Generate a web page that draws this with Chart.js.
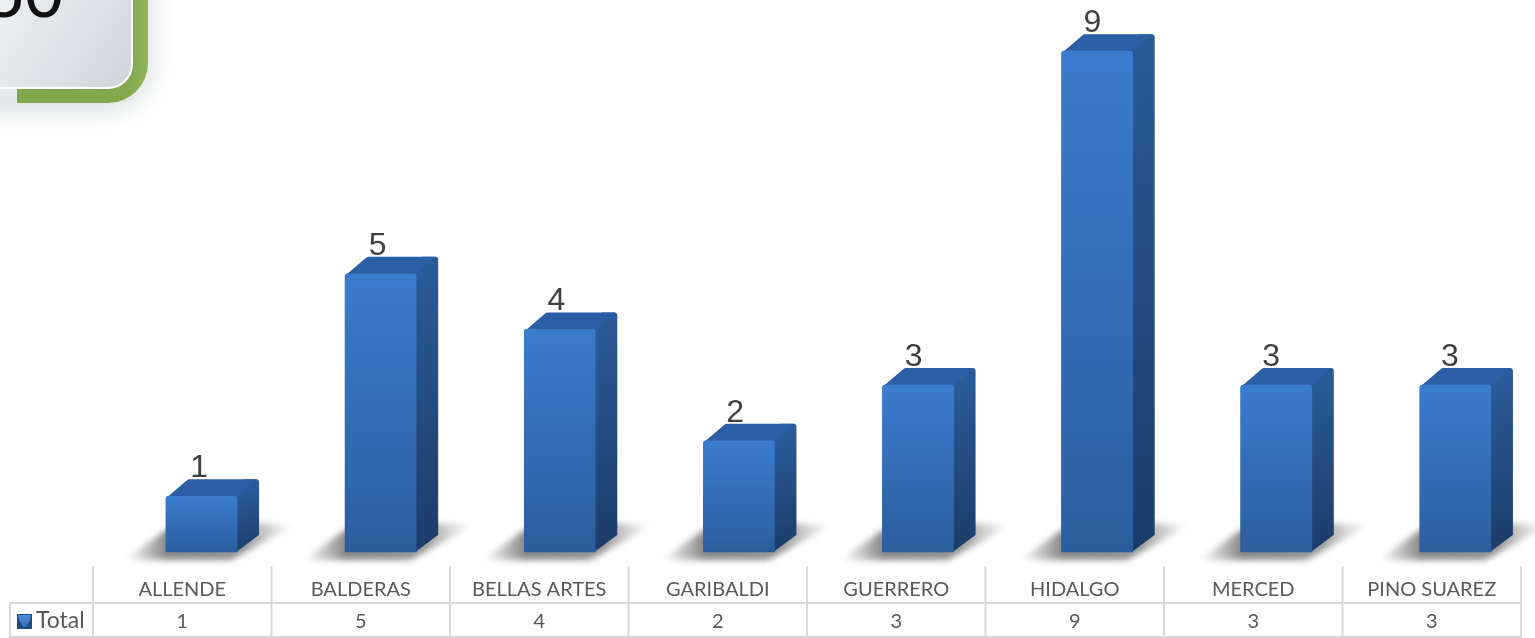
<!DOCTYPE html>
<html>
<head>
<meta charset="utf-8">
<style>
  html, body { margin: 0; padding: 0; background: #fff; overflow: hidden; width: 1535px; height: 638px; }
  canvas { display: block; }
</style>
<script src="https://cdn.jsdelivr.net/npm/chart.js@4"></script>
</head>
<body>
<canvas id="chart" width="1560" height="638"></canvas>
<script>
const categories = ["ALLENDE", "BALDERAS", "BELLAS ARTES", "GARIBALDI", "GUERRERO", "HIDALGO", "MERCED", "PINO SUAREZ"];
const seriesName = "Total";
const totals = [1, 5, 4, 2, 3, 9, 3, 3];
const badgeText = "50";

const depthX = 22, depthY = 17;
const tableLeft = 93, tableStep = 178.5; // the table is a bit narrower than the bars
const lineColor = "#d9d9d9", tableText = "#595959";

// polygon, each point is [x, y, cornerRadius]
function roundPoly(ctx, pts) {
  const n = pts.length;
  const mid = (a, b) => [(a[0] + b[0]) / 2, (a[1] + b[1]) / 2];
  const start = mid(pts[n - 1], pts[0]);
  ctx.beginPath();
  ctx.moveTo(start[0], start[1]);
  pts.forEach((p, i) => {
    const m = mid(p, pts[(i + 1) % n]);
    ctx.arcTo(p[0], p[1], m[0], m[1], p[2]);
  });
  ctx.closePath();
}

function rightRound(ctx, x0, y0, x1, y1, r) {
  ctx.beginPath();
  ctx.moveTo(x0, y0);
  ctx.lineTo(x1, y0);
  ctx.lineTo(x1, y1 - r);
  ctx.arcTo(x1, y1, x1 - r, y1, r);
  ctx.lineTo(x0, y1);
  ctx.closePath();
}

const badge = {
  id: "badge",
  afterDraw(chart) {
    const ctx = chart.ctx;
    ctx.save();
    ctx.save();
    ctx.shadowColor = "rgba(90,110,120,0.28)";
    ctx.shadowBlur = 28;
    ctx.shadowOffsetY = 4;
    ctx.fillStyle = "#e3e8ea";
    rightRound(ctx, -40, -40, 148, 103, 40);
    ctx.fill();
    ctx.restore();
    const green = ctx.createLinearGradient(17, 0, 148, 0);
    green.addColorStop(0, "#82a64b");
    green.addColorStop(0.85, "#84a84c");
    green.addColorStop(1, "#8fb55a");
    ctx.fillStyle = green;
    rightRound(ctx, 17, -40, 148, 103, 40);
    ctx.fill();
    const grey = ctx.createLinearGradient(0, 0, 132, 88);
    grey.addColorStop(0, "#edeff1");
    grey.addColorStop(1, "#d0d4da");
    ctx.fillStyle = grey;
    rightRound(ctx, -40, -40, 132, 88, 24);
    ctx.fill();
    ctx.strokeStyle = "#ffffff";
    ctx.lineWidth = 2;
    ctx.stroke();
    ctx.fillStyle = "#111";
    ctx.font = '72px "Liberation Sans", sans-serif';
    ctx.textAlign = "right";
    ctx.textBaseline = "alphabetic";
    ctx.fillText(badgeText, 64, 17);
    ctx.restore();
  }
};

const bars3d = {
  id: "bars3d",
  beforeDatasetsDraw(chart) {
    const ctx = chart.ctx, bars = chart.getDatasetMeta(0).data;
    ctx.save();
    ctx.filter = "blur(3px)";
    bars.forEach(b => {
      const l = b.x - 35.5, r = b.x + 35.5, y = b.base;
      const g = ctx.createLinearGradient(l - 42, 0, r + 58, 0);
      g.addColorStop(0, "rgba(120,120,120,0)");
      g.addColorStop(0.25, "rgba(105,105,105,0.8)");
      g.addColorStop(0.7, "rgba(110,110,110,0.75)");
      g.addColorStop(1, "rgba(160,160,160,0)");
      ctx.fillStyle = g;
      ctx.beginPath();
      ctx.moveTo(l - 42, y + 8);
      ctx.lineTo(r - 6, y + 8);
      ctx.lineTo(r + 58, y - 27);
      ctx.lineTo(r + 15, y - 29);
      ctx.lineTo(l, y - 22);
      ctx.closePath();
      ctx.fill();
    });
    ctx.restore();
  },
  afterDatasetsDraw(chart) {
    const ctx = chart.ctx, bars = chart.getDatasetMeta(0).data;
    ctx.save();
    bars.forEach((b, i) => {
      const l = b.x - 35.5, r = b.x + 35.5, t = b.y, y = b.base;
      const side = ctx.createLinearGradient(r, t, r + depthX, y);
      side.addColorStop(0, "#2a5a98");
      side.addColorStop(1, "#1b3c68");
      ctx.fillStyle = side;
      roundPoly(ctx, [[r - 1, t + 1, 0], [r + 6, t - depthY, 0], [r + depthX, t - depthY, 3], [r + depthX, y - depthY, 2], [r - 1, y, 0]]);
      ctx.fill();
      ctx.fillStyle = "#2c5ea6";
      roundPoly(ctx, [[l + 1, t + 1, 0], [l + depthX, t - depthY, 3], [r + depthX - 2, t - depthY, 0], [r, t + 1, 0]]);
      ctx.fill();

      ctx.fillStyle = "#404040";
      ctx.font = '32px "Liberation Sans", sans-serif';
      ctx.textAlign = "center";
      ctx.textBaseline = "alphabetic";
      ctx.fillText(String(totals[i]), b.x - 2.5 - i * 0.45, t - 19);
    });
    // front faces go back on top of the sides
    bars.forEach(b => b.draw(ctx));
    ctx.restore();
  }
};

const dataTable = {
  id: "dataTable",
  afterDraw(chart) {
    const ctx = chart.ctx;
    const edge = i => tableLeft + i * tableStep;
    ctx.save();
    ctx.strokeStyle = lineColor;
    ctx.lineWidth = 2;
    for (let i = 0; i <= categories.length; i++) {
      ctx.beginPath();
      ctx.moveTo(edge(i), 566);
      ctx.lineTo(edge(i), 638);
      ctx.stroke();
    }
    ctx.beginPath();
    ctx.moveTo(9, 603); ctx.lineTo(edge(categories.length), 603);
    ctx.moveTo(9, 637); ctx.lineTo(edge(categories.length), 637);
    ctx.moveTo(10, 603); ctx.lineTo(10, 638);
    ctx.stroke();

    ctx.fillStyle = tableText;
    ctx.font = '20px Lato, sans-serif';
    ctx.textAlign = "center";
    ctx.textBaseline = "middle";
    categories.forEach((c, i) => ctx.fillText(c, edge(i) + tableStep / 2, 590));
    totals.forEach((v, i) => ctx.fillText(String(v), edge(i) + tableStep / 2, 622));
    ctx.textAlign = "left";
    ctx.font = '23px Lato, sans-serif';
    ctx.fillText(seriesName, 36, 621);

    // legend key
    ctx.fillStyle = "#214a7c";
    ctx.fillRect(17, 614, 15, 15);
    const key = ctx.createLinearGradient(0, 614, 0, 627);
    key.addColorStop(0, "#4a90e0");
    key.addColorStop(1, "#3670b8");
    ctx.fillStyle = key;
    ctx.beginPath();
    ctx.moveTo(18, 615); ctx.lineTo(31, 615); ctx.lineTo(30, 620); ctx.lineTo(26, 627); ctx.lineTo(23, 627); ctx.lineTo(19, 620);
    ctx.closePath();
    ctx.fill();
    ctx.restore();
  }
};

new Chart(document.getElementById("chart"), {
  type: "bar",
  data: {
    labels: categories,
    datasets: [{
      label: seriesName,
      data: totals,
      barThickness: 71,
      borderRadius: 3,
      backgroundColor(c) {
        const ys = c.chart.scales.y;
        if (!ys || !c.chart.chartArea || c.dataIndex === undefined) return "#3370bb";
        const top = ys.getPixelForValue(totals[c.dataIndex]);
        const g = c.chart.ctx.createLinearGradient(0, top, 0, ys.getPixelForValue(0));
        g.addColorStop(0, "#3a7cce");
        g.addColorStop(1, "#2c5e9e");
        return g;
      }
    }]
  },
  options: {
    responsive: false,
    animation: false,
    layout: { padding: { left: 112, right: 15, top: 0, bottom: 0 } },
    plugins: { legend: { display: false }, tooltip: { enabled: false } },
    scales: {
      x: {
        grid: { display: false, drawTicks: false },
        border: { display: false },
        afterFit(scale) { scale.height = 86; },
        ticks: { display: false }
      },
      y: { display: false, min: 0, max: 9.92 }
    }
  },
  plugins: [bars3d, dataTable, badge]
});
</script>
</body>
</html>
